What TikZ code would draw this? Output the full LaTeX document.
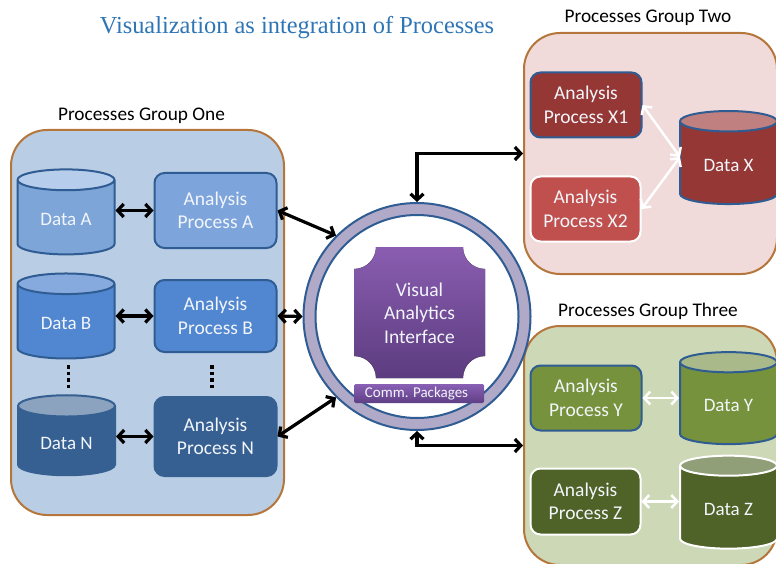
\documentclass[tikz,border=0pt]{standalone}
\usepackage{fontspec}
\setmainfont{Carlito}
\newfontfamily\titlefont{Liberation Serif}
\usepackage{tikz}
\usetikzlibrary{shapes.geometric,arrows.meta}
\definecolor{grpedge}{HTML}{B5763C}
\definecolor{blueedge}{HTML}{2F5C92}
\definecolor{nodetext}{HTML}{F2F5FA}
\definecolor{darkblue}{RGB}{54,96,146}
\tikzset{
        group/.style = {draw=grpedge, line width=2pt, rectangle, rounded corners=36pt},
        grouptitle/.style = {font=\fontsize{19.3}{22}\selectfont, text=black},
        proc/.style = {draw=blueedge, line width=2pt, rectangle, rounded corners=10pt, text=nodetext, align=center,
                minimum width=122pt, font=\fontsize{19.5}{23.5}\selectfont},
        data/.style = {cylinder, shape border rotate=90, aspect=0.36, draw=blueedge, line width=2pt, text=nodetext,
                minimum width=97pt, cylinder uses custom fill, font=\fontsize{19}{22}\selectfont},
        line/.style = {line width=3.2pt, <->},
        whiteline/.style = {line width=2.5pt, white, <->},
        moredots/.style = {line width=3.5pt, dash pattern=on 3.5pt off 3pt}}

\begin{document}
\begin{tikzpicture}[x=1pt,y=-1pt,>={Straight Barb[length=6pt,width=13pt]}]
            \clip (0,0) rectangle (776,564);
            \node [font=\titlefont\fontsize{24.4}{28}\selectfont, text={rgb,255:red,46;green,117;blue,182}] (title) at (297,28) {Visualization as integration of Processes};

            % group boxes
            \node [group, fill={rgb,255:red,185;green,205;blue,229}, minimum width=273pt, minimum height=385pt] (one) at (147.5,322.5) {};
            \node [group, fill={rgb,255:red,240;green,218;blue,218}, minimum width=253pt, minimum height=241pt] (two) at (650.5,153.5) {};
            \node [group, fill={rgb,255:red,205;green,216;blue,182}, minimum width=253pt, minimum height=239pt] (three) at (650.5,445.5) {};
            \node [grouptitle] (onetitle) at (141.5,116) {Processes Group One};
            \node [grouptitle] (twotitle) at (648,18) {Processes Group Two};
            \node [grouptitle] (threetitle) at (648,311) {Processes Group Three};

            % group one
            \node [data, minimum height=85pt, cylinder body fill={rgb,255:red,125;green,165;blue,216}, cylinder end fill={rgb,255:red,182;green,205;blue,235}] (dataA) at (66,219.5) {Data A};
            \node [data, minimum height=85pt, cylinder body fill={rgb,255:red,80;green,135;blue,208}, cylinder end fill={rgb,255:red,135;green,170;blue,222}] (dataB) at (66,323.5) {Data B};
            \node [data, minimum height=80pt, draw=darkblue, cylinder body fill=darkblue, cylinder end fill={rgb,255:red,140;green,163;blue,192}] (dataN) at (66.5,443) {Data N};
            \node [proc, minimum height=75pt, fill={rgb,255:red,125;green,165;blue,220}] (procA) at (215.5,210.5) {Analysis\\Process A};
            \node [proc, minimum height=72pt, fill={rgb,255:red,80;green,135;blue,208}] (procB) at (215.5,316) {Analysis\\Process B};
            \node [proc, minimum height=79pt, draw=darkblue, fill=darkblue] (procN) at (215.5,436.5) {Analysis\\Process N};
            \draw [moredots] (68.5,365) -- ++(0,24);
            \draw [moredots] (212,365) -- ++(0,24);

            % group two
            \node [proc, minimum width=111pt, minimum height=65pt, fill={rgb,255:red,149;green,55;blue,53}] (procXa) at (586,105) {Analysis\\Process X1};
            \node [proc, minimum width=110pt, minimum height=65pt, draw=white, fill={rgb,255:red,192;green,80;blue,77}] (procXb) at (585.5,209) {Analysis\\Process X2};
            \node [data, minimum height=93pt, cylinder body fill={rgb,255:red,149;green,55;blue,53}, cylinder end fill={rgb,255:red,192;green,128;blue,128}] (dataX) at (728.5,165) {Data X};
            \coordinate (joinX) at (680,157);

            % group three
            \node [proc, minimum width=111pt, minimum height=65pt, fill={rgb,255:red,118;green,146;blue,60}] (procY) at (586,398) {Analysis\\Process Y};
            \node [proc, minimum width=110pt, minimum height=66pt, draw=white, fill={rgb,255:red,79;green,98;blue,40}] (procZ) at (585.5,501.5) {Analysis\\Process Z};
            \node [data, minimum height=92pt, cylinder body fill={rgb,255:red,118;green,146;blue,60}, cylinder end fill={rgb,255:red,169;green,185;blue,138}] (dataY) at (728.5,405.5) {Data Y};
            \node [data, minimum height=93pt, draw=white, cylinder body fill={rgb,255:red,79;green,98;blue,40}, cylinder end fill={rgb,255:red,144;green,159;blue,120}] (dataZ) at (728.5,509.5) {Data Z};

            % interface
            \node [circle, draw=blueedge, line width=2pt, fill={rgb,255:red,176;green,170;blue,200}, minimum size=227pt] (ring) at (417,316.5) {};
            \node [circle, draw=blueedge, line width=2pt, fill=white, minimum size=203pt] (hole) at (417,316.5) {};
            \fill [top color={rgb,255:red,138;green,93;blue,176}, bottom color={rgb,255:red,92;green,60;blue,128}]
                (376,247) -- (463,247) arc (180:270:22pt) -- (485,356) arc (90:180:22pt)
                -- (376,378) arc (0:90:22pt) -- (354,269) arc (270:360:22pt) -- cycle;
            \node [text=nodetext, align=center, font=\fontsize{19.5}{23.5}\selectfont] (vai) at (419.5,313) {Visual\\Analytics\\Interface};
            \node [rectangle, rounded corners=1.5pt, top color={rgb,255:red,138;green,96;blue,181}, bottom color={rgb,255:red,95;green,63;blue,133},
                minimum width=130pt, minimum height=19pt, inner sep=0pt, text=nodetext, font=\fontsize{15}{18}\selectfont] (comm) at (419,393.5) {Comm. Packages\kern5pt};

            \begin{scope}[line]
            \draw (dataA.east |- procA.west) -- (procA.west);
            \draw (dataB.east |- procB.west) -- (procB.west);
            \draw (dataN.east |- procN.west) -- (procN.west);
            \draw (procA.east) -- (ring.135);
            \draw (procB.east) -- (ring.west);
            \draw (procN.east) -- (ring.225);
            \draw (ring.north) |- (two.west);
            \draw (ring.south) |- (three.west);
            \end{scope}

            \begin{scope}[whiteline]
            \draw (procXa.east) -- (joinX);
            \draw (procXb.east) -- (joinX);
            \draw (procY.east) -- (dataY.west |- procY.east);
            \draw (procZ.east) -- (dataZ.west |- procZ.east);
            \end{scope}
    \end{tikzpicture}
\end{document}
